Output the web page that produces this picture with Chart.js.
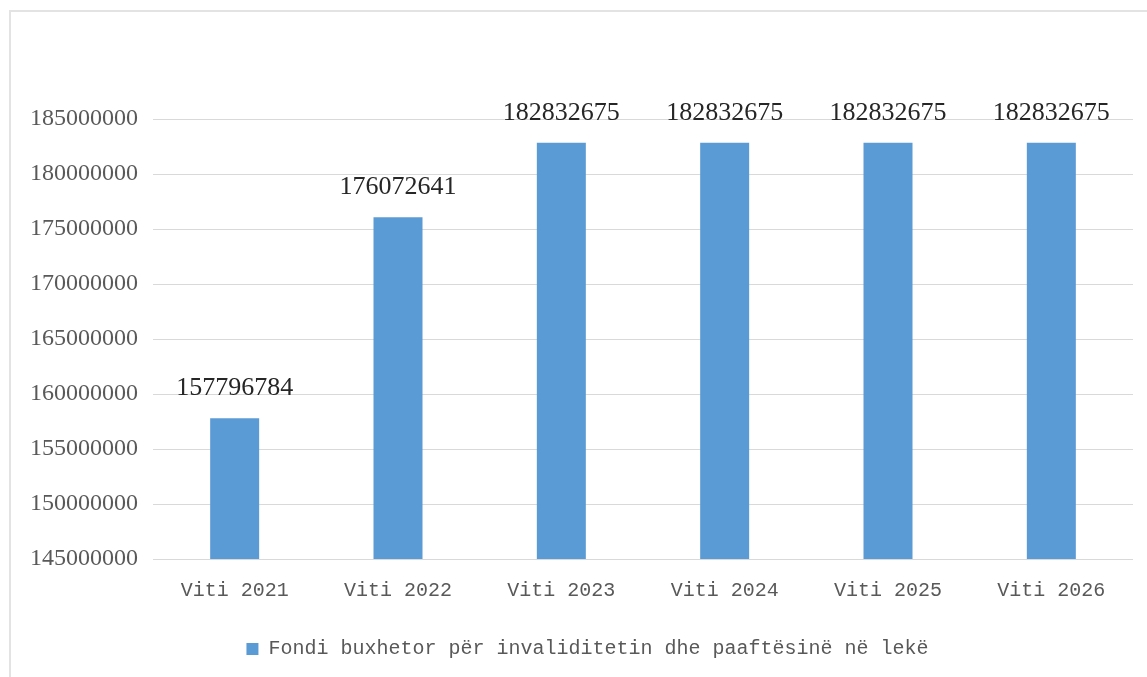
<!DOCTYPE html>
<html>
<head>
<meta charset="utf-8">
<script src="https://cdn.jsdelivr.net/npm/chart.js@4/dist/chart.umd.min.js"></script>
<style>
  html, body { margin: 0; padding: 0; background: #fff; }
  #wrap { position: relative; width: 1147px; height: 677px; overflow: hidden; background: #fff; }
  #frame { position: absolute; left: 9px; top: 10px; width: 1160px; height: 720px; border: 2px solid #e3e3e3; box-sizing: border-box; }
  canvas { position: absolute; left: 0; top: 0; }
</style>
</head>
<body>
<div id="wrap">
  <div id="frame"></div>
  <canvas id="c" width="1147" height="677"></canvas>
</div>
<script>
const categories = ["Viti 2021", "Viti 2022", "Viti 2023", "Viti 2024", "Viti 2025", "Viti 2026"];
const seriesName = "Fondi buxhetor për invaliditetin dhe paaftësinë në lekë";
const values = [157796784, 176072641, 182832675, 182832675, 182832675, 182832675];
const yMin = 145000000;
const yMax = 185000000;
const yStep = 5000000;

const MONO = "'Liberation Mono', 'DejaVu Sans Mono', monospace";
const SERIF = "'Liberation Serif', 'DejaVu Serif', serif";

const dataLabels = {
  id: 'dataLabels',
  afterDatasetsDraw(chart) {
    const ctx = chart.ctx;
    const meta = chart.getDatasetMeta(0);
    ctx.save();
    ctx.font = "26px " + SERIF;
    ctx.fillStyle = "#262626";
    ctx.textAlign = "center";
    ctx.textBaseline = "alphabetic";
    meta.data.forEach((bar, i) => {
      ctx.fillText(String(values[i]), bar.x, bar.y - 23);
    });
    ctx.restore();
  }
};

const legendShift = {
  id: 'legendShift',
  afterLayout(chart) {
    if (chart.legend) {
      chart.legend.left += 8;
      chart.legend.right += 8;
      if (chart.legend.legendHitBoxes) chart.legend.legendHitBoxes.forEach(b => { b.left += 8; });
    }
  }
};

new Chart(document.getElementById('c'), {
  type: 'bar',
  data: {
    labels: categories,
    datasets: [{
      label: seriesName,
      data: values,
      backgroundColor: '#5b9bd5',
      borderWidth: 0,
      barPercentage: 1,
      categoryPercentage: 0.3
    }]
  },
  options: {
    responsive: false,
    animation: false,
    layout: { padding: { top: 119, left: 26, right: 14, bottom: 8 } },
    plugins: {
      legend: {
        position: 'bottom',
        labels: {
          boxWidth: 12,
          boxHeight: 12,
          padding: 10,
          color: '#595959',
          font: { family: MONO, size: 20 }
        }
      },
      tooltip: { enabled: false }
    },
    scales: {
      x: {
        grid: { display: false, drawTicks: false },
        border: { display: false },
        ticks: { color: '#595959', font: { family: MONO, size: 20 }, padding: 20 },
        afterFit(scale) { scale.height = 70; }
      },
      y: {
        min: yMin,
        max: yMax,
        grid: { color: '#d9d9d9', lineWidth: 1, drawTicks: false },
        border: { display: false },
        ticks: {
          stepSize: yStep,
          color: '#595959',
          font: { family: SERIF, size: 24 },
          padding: 15,
          callback: v => String(v)
        },
        afterFit(scale) { scale.width = 127; }
      }
    }
  },
  plugins: [dataLabels, legendShift]
});
</script>
</body>
</html>
